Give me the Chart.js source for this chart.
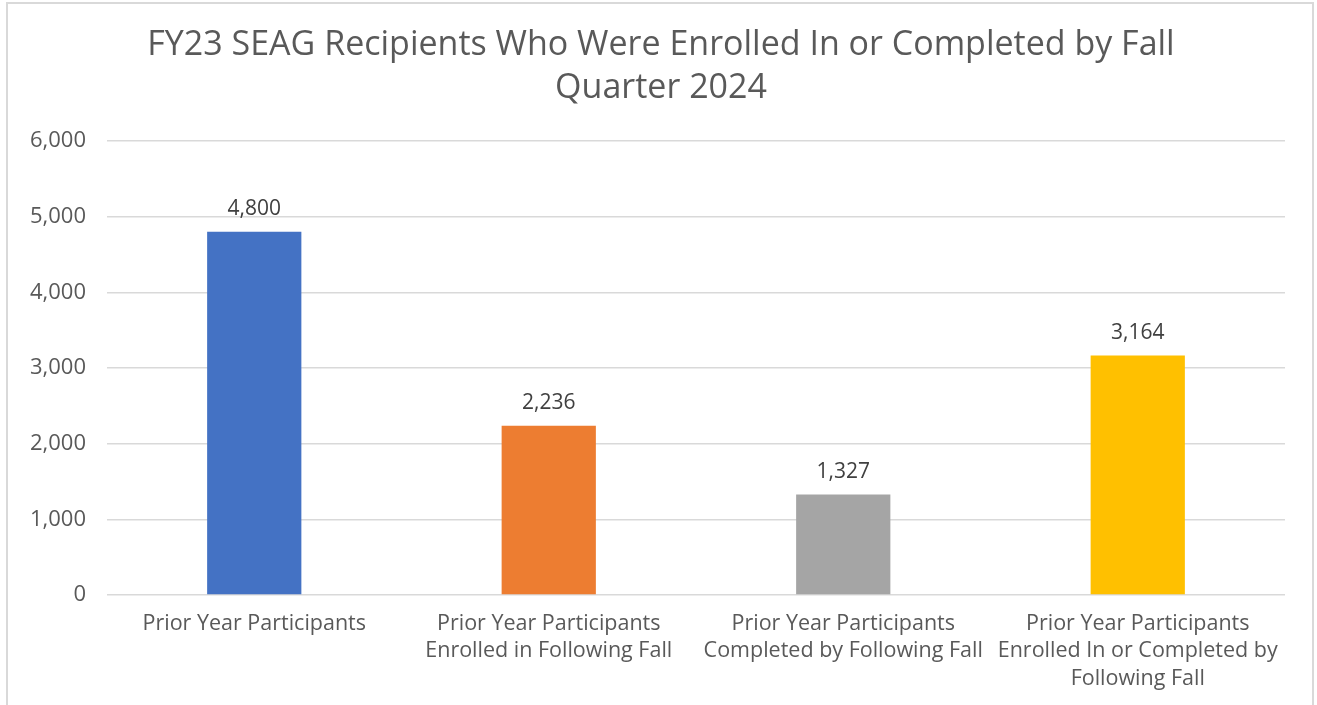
<!DOCTYPE html>
<html><head><meta charset="utf-8">
<script src="https://cdn.jsdelivr.net/npm/chart.js@4/dist/chart.umd.min.js"></script>
<style>html,body{margin:0;padding:0;background:#fff;overflow:hidden}#wrap{position:relative;width:1317px;height:705px}</style>
</head><body><div id="wrap"><canvas id="c" width="1317" height="705"></canvas></div>
<script>
const titleLines = ["FY23 SEAG Recipients Who Were Enrolled In or Completed by Fall", "Quarter 2024"];
const categories = [
  ["Prior Year Participants"],
  ["Prior Year Participants", "Enrolled in Following Fall"],
  ["Prior Year Participants", "Completed by Following Fall"],
  ["Prior Year Participants", "Enrolled In or Completed by", "Following Fall"]
];
const values = [4800, 2236, 1327, 3164];
const barColors = ["#4472C4", "#ED7D31", "#A5A5A5", "#FFC000"];
const yMin = 0, yMax = 6000, yStep = 1000;

const FONT = "'Open Sans', 'Liberation Sans', Arial, sans-serif";

const borderPlugin = {
  id: 'frame',
  afterDraw(chart) {
    const ctx = chart.ctx;
    ctx.save();
    ctx.strokeStyle = '#d9d9d9';
    ctx.lineWidth = 2;
    ctx.strokeRect(7, 3, 1306, 720);
    ctx.restore();
  }
};
const titlePlugin = {
  id: 'frameTitle',
  afterDraw(chart) {
    const ctx = chart.ctx;
    ctx.save();
    ctx.fillStyle = '#595959';
    ctx.font = "34px " + FONT;
    ctx.textAlign = 'center';
    ctx.textBaseline = 'middle';
    titleLines.forEach((t, i) => ctx.fillText(t, 661, 45 + i * 43));
    ctx.restore();
  }
};
const labelPlugin = {
  id: 'valLabels',
  afterDatasetsDraw(chart) {
    const ctx = chart.ctx;
    const meta = chart.getDatasetMeta(0);
    ctx.save();
    ctx.fillStyle = '#404040';
    ctx.font = "21px " + FONT;
    ctx.textAlign = 'center';
    ctx.textBaseline = 'middle';
    meta.data.forEach((bar, i) => {
      ctx.fillText(values[i].toLocaleString('en-US'), bar.x, bar.y - 23);
    });
    ctx.restore();
  }
};

new Chart(document.getElementById('c'), {
  type: 'bar',
  data: {
    labels: categories,
    datasets: [{ data: values, backgroundColor: barColors, barPercentage: 0.32, categoryPercentage: 1 }]
  },
  options: {
    responsive: false,
    animation: false,
    devicePixelRatio: 1,
    layout: { padding: { left: 20, right: 32, top: 141, bottom: 0 } },
    plugins: {
      legend: { display: false },
      tooltip: { enabled: false },
      title: { display: false }
    },
    scales: {
      x: {
        grid: { display: false },
        border: { display: false },
        ticks: { color: '#595959', font: { family: FONT, size: 21.5, lineHeight: 1.28 }, padding: 7, maxRotation: 0, autoSkip: false },
        afterFit(s) { s.height = 110; }
      },
      y: {
        min: yMin, max: yMax,
        grid: { color: '#d9d9d9', lineWidth: 1.5, drawTicks: false },
        border: { display: false },
        ticks: { stepSize: yStep, color: '#595959', font: { family: FONT, size: 22 }, padding: 21,
          callback: v => v.toLocaleString('en-US') },
        afterFit(s) { s.width = 87; }
      }
    }
  },
  plugins: [borderPlugin, titlePlugin, labelPlugin]
});
</script></body></html>
